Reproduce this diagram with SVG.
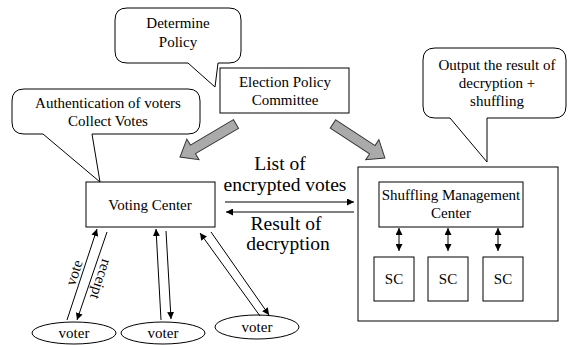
<svg xmlns="http://www.w3.org/2000/svg" width="570" height="345" viewBox="0 0 570 345">
  <defs>
    <marker id="ah" viewBox="0 0 8 8" refX="8" refY="4" markerWidth="7" markerHeight="7" markerUnits="userSpaceOnUse" orient="auto">
      <path d="M0,0 L8,4 L0,8 Z" fill="#000"/>
    </marker>
    <marker id="ahs" viewBox="0 0 8 8" refX="0" refY="4" markerWidth="7" markerHeight="7" markerUnits="userSpaceOnUse" orient="auto">
      <path d="M8,0 L0,4 L8,8 Z" fill="#000"/>
    </marker>
  </defs>

  <!-- shapes share white fill and a thin black outline; text is centred -->
  <g fill="#fff" stroke="#000" stroke-width="1">
    <!-- speech bubbles -->
    <g id="callout-policy">
      <path d="M127,8 H229 Q241,8 241,20 V51 Q241,63 229,63 H218 L215,87 L188,63 H127 Q115,63 115,51 V20 Q115,8 127,8 Z"/>
      <text x="178" y="28" font-family="Liberation Serif" font-size="15" fill="#000" stroke="none" text-anchor="middle">Determine</text>
      <text x="178" y="47" font-family="Liberation Serif" font-size="15" fill="#000" stroke="none" text-anchor="middle">Policy</text>
    </g>
    <g id="callout-auth">
      <path d="M24,89 H188 Q200,89 200,101 V122 Q200,134 188,134 H92 L100,182 L43,134 H24 Q12,134 12,122 V101 Q12,89 24,89 Z"/>
      <text x="108" y="108" font-family="Liberation Serif" font-size="15" fill="#000" stroke="none" text-anchor="middle">Authentication of voters</text>
      <text x="108" y="126" font-family="Liberation Serif" font-size="15" fill="#000" stroke="none" text-anchor="middle">Collect Votes</text>
    </g>
    <g id="callout-output">
      <path d="M435,48 H554 Q566,48 566,60 V106 Q566,118 554,118 H487 L487,162 L450,118 H435 Q423,118 423,106 V60 Q423,48 435,48 Z"/>
      <text x="497" y="70" font-family="Liberation Serif" font-size="15" fill="#000" stroke="none" text-anchor="middle">Output the result of</text>
      <text x="497" y="88" font-family="Liberation Serif" font-size="15" fill="#000" stroke="none" text-anchor="middle">decryption +</text>
      <text x="497" y="106" font-family="Liberation Serif" font-size="15" fill="#000" stroke="none" text-anchor="middle">shuffling</text>
    </g>

    <!-- nodes -->
    <g id="committee">
      <rect x="220" y="68" width="129" height="45"/>
      <text x="285" y="87" font-family="Liberation Serif" font-size="15" fill="#000" stroke="none" text-anchor="middle">Election Policy</text>
      <text x="285" y="105" font-family="Liberation Serif" font-size="15" fill="#000" stroke="none" text-anchor="middle">Committee</text>
    </g>
    <g id="voting-center">
      <rect x="86" y="182" width="129" height="45"/>
      <text x="150" y="210" font-family="Liberation Serif" font-size="15" fill="#000" stroke="none" text-anchor="middle">Voting Center</text>
    </g>
    <g id="shuffling">
      <rect x="358" y="167" width="200" height="154"/>
      <g id="smc">
        <rect x="379" y="182" width="144" height="45"/>
        <text x="451" y="200" font-family="Liberation Serif" font-size="15" fill="#000" stroke="none" text-anchor="middle">Shuffling Management</text>
        <text x="451" y="218" font-family="Liberation Serif" font-size="15" fill="#000" stroke="none" text-anchor="middle">Center</text>
      </g>
      <g id="sc1">
        <rect x="374" y="257" width="40" height="44"/>
        <text x="394" y="284" font-family="Liberation Serif" font-size="15" fill="#000" stroke="none" text-anchor="middle">SC</text>
      </g>
      <g id="sc2">
        <rect x="428" y="257" width="40" height="44"/>
        <text x="448" y="284" font-family="Liberation Serif" font-size="15" fill="#000" stroke="none" text-anchor="middle">SC</text>
      </g>
      <g id="sc3">
        <rect x="483" y="257" width="40" height="44"/>
        <text x="503" y="284" font-family="Liberation Serif" font-size="15" fill="#000" stroke="none" text-anchor="middle">SC</text>
      </g>
    </g>
    <g id="voter1">
      <ellipse cx="74" cy="333" rx="42" ry="11"/>
      <text x="74" y="338" font-family="Liberation Serif" font-size="15" fill="#000" stroke="none" text-anchor="middle">voter</text>
    </g>
    <g id="voter2">
      <ellipse cx="163" cy="333" rx="42" ry="11"/>
      <text x="163" y="338" font-family="Liberation Serif" font-size="15" fill="#000" stroke="none" text-anchor="middle">voter</text>
    </g>
    <g id="voter3">
      <ellipse cx="257" cy="327" rx="42" ry="12"/>
      <text x="257" y="332" font-family="Liberation Serif" font-size="15" fill="#000" stroke="none" text-anchor="middle">voter</text>
    </g>
  </g>

  <!-- connectors -->
  <g id="connectors">
    <!-- block arrows from the committee -->
    <g fill="#aaaaaa" stroke="#333" stroke-width="1">
      <polygon transform="translate(236,124) rotate(149.5)" points="0,-5 50,-5 50,-12 65,0 50,12 50,5 0,5"/>
      <polygon transform="translate(333,124) rotate(33.2)" points="0,-5 47,-5 47,-12 62,0 47,12 47,5 0,5"/>
    </g>

    <g stroke="#000" stroke-width="1" fill="none">
      <!-- voting center <-> shuffling -->
      <line x1="225" y1="202" x2="354" y2="202" marker-end="url(#ah)"/>
      <line x1="226" y1="212" x2="354" y2="212" marker-start="url(#ahs)"/>
      <!-- voters <-> voting center -->
      <line x1="67" y1="320" x2="97" y2="229" marker-end="url(#ah)"/>
      <line x1="107" y1="232" x2="77" y2="320" marker-end="url(#ah)"/>
      <line x1="161" y1="320" x2="156" y2="229" marker-end="url(#ah)"/>
      <line x1="166" y1="231" x2="171" y2="319" marker-end="url(#ah)"/>
      <line x1="260" y1="316" x2="200" y2="233" marker-end="url(#ah)"/>
      <line x1="211" y1="232" x2="269" y2="315" marker-end="url(#ah)"/>
      <!-- smc <-> sc -->
      <line x1="399" y1="228" x2="399" y2="251" marker-start="url(#ahs)" marker-end="url(#ah)"/>
      <line x1="448" y1="228" x2="448" y2="251" marker-start="url(#ahs)" marker-end="url(#ah)"/>
      <line x1="498" y1="228" x2="498" y2="251" marker-start="url(#ahs)" marker-end="url(#ah)"/>
    </g>

    <text x="280" y="170" font-family="Liberation Serif" font-size="19.5" fill="#000" text-anchor="middle">List of</text>
    <text x="285" y="191" font-family="Liberation Serif" font-size="19.5" fill="#000" text-anchor="middle">encrypted votes</text>
    <text x="286" y="230" font-family="Liberation Serif" font-size="19.5" fill="#000" text-anchor="middle">Result of</text>
    <text x="288" y="250" font-family="Liberation Serif" font-size="19.5" fill="#000" text-anchor="middle">decryption</text>
    <text transform="translate(75,273) rotate(-72)" y="4" font-family="Liberation Serif" font-size="15" fill="#000" text-anchor="middle">vote</text>
    <text transform="translate(100,279) rotate(108)" y="4" font-family="Liberation Serif" font-size="15" fill="#000" text-anchor="middle">receipt</text>
  </g>
</svg>
